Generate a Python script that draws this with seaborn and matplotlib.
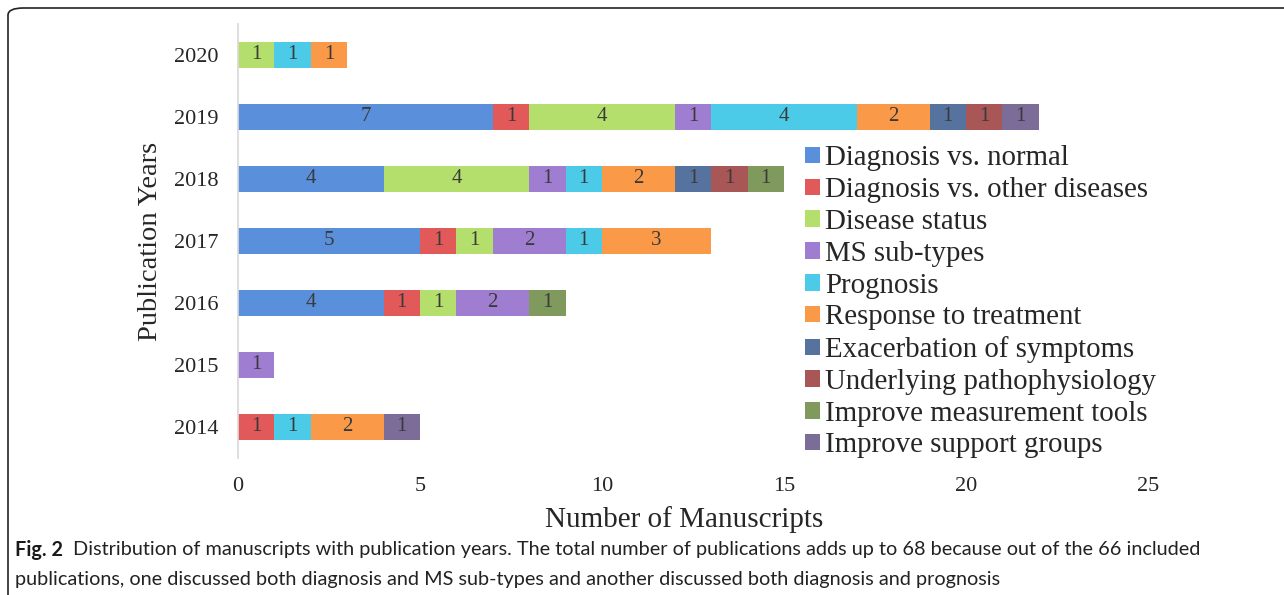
import matplotlib
matplotlib.use('Agg')
import matplotlib.pyplot as plt
from matplotlib.patches import Patch, FancyBboxPatch
import seaborn as sns
import pandas as pd
import numpy as np

# Dados
years = ['2020', '2019', '2018', '2017', '2016', '2015', '2014']
categories = ['Diagnosis vs. normal', 'Diagnosis vs. other diseases', 'Disease status',
              'MS sub-types', 'Prognosis', 'Response to treatment',
              'Exacerbation of symptoms', 'Underlying pathophysiology',
              'Improve measurement tools', 'Improve support groups']
diag_normal = [0, 7, 4, 5, 4, 0, 0]
diag_other = [0, 1, 0, 1, 1, 0, 1]
disease_status = [1, 4, 4, 1, 1, 0, 0]
ms_subtypes = [0, 1, 1, 2, 2, 1, 0]
prognosis = [1, 4, 1, 1, 0, 0, 1]
response = [1, 2, 2, 3, 0, 0, 2]
exacerbation = [0, 1, 1, 0, 0, 0, 0]
pathophys = [0, 1, 1, 0, 0, 0, 0]
measurement = [0, 0, 1, 0, 1, 0, 0]
support = [0, 1, 0, 0, 0, 0, 1]
colors = ['#5a8fdc', '#e25959', '#b4df6c', '#9f7dd0', '#4ccbe8', '#fa9a48',
          '#56739f', '#a85656', '#7f9a5c', '#7b6c98']

series = [diag_normal, diag_other, disease_status, ms_subtypes, prognosis, response,
          exacerbation, pathophys, measurement, support]
df = pd.DataFrame(dict(zip(categories, series)), index=years)
cum = df.cumsum(axis=1)

sns.set_theme(style='white')
plt.rcParams['font.family'] = ['Liberation Serif', 'DejaVu Serif']

fig = plt.figure(figsize=(12.84, 5.95), dpi=100)
ax = fig.add_axes([0.1854, 0.2303, 0.7086, 0.7294])

# barras empilhadas: desenha os acumulados do ultimo para o primeiro
for cat, col in reversed(list(zip(categories, colors))):
    d = pd.DataFrame({'Ano': years, 'Total': cum[cat].values})
    sns.barplot(data=d, y='Ano', x='Total', order=years, color=col,
                width=0.42, saturation=1, linewidth=0, ax=ax)

# rotulos dos segmentos
for i, yr in enumerate(years):
    for cat in categories:
        v = df.loc[yr, cat]
        if v > 0:
            ax.text(cum.loc[yr, cat] - v / 2, i, str(v), ha='center', va='center',
                    fontsize=15, color='#3a3a3a')

ax.set_xlim(0, 25)
ax.set_ylim(6.5, -0.5)
ax.set_xticks(range(0, 26, 5))
ax.tick_params(axis='x', length=0, pad=14, labelsize=16)
ax.tick_params(axis='y', length=0, pad=14, labelsize=16)
for s in ['top', 'right', 'bottom']:
    ax.spines[s].set_visible(False)
ax.spines['left'].set_color('#d9d9d9')
ax.set_xlabel('Number of Manuscripts', fontsize=21)
ax.xaxis.set_label_coords(0.49, -0.11)
ax.set_ylabel('Publication Years', fontsize=20.5, labelpad=8)

handles = [Patch(facecolor=c, edgecolor='none') for c in colors]
fig.legend(handles, categories, loc='upper left', bbox_to_anchor=(0.618, 0.775),
           frameon=False, fontsize=20.8, handlelength=0.5, handleheight=0.5,
           handletextpad=0.2, labelspacing=0.20, borderaxespad=0)

# moldura e legenda da figura
frame = FancyBboxPatch((8 / 1284, -0.2), 1.2, 1.2 - 8 / 595,
                       boxstyle='round,pad=0,rounding_size=0.012',
                       transform=fig.transFigure, fill=False, edgecolor='#222222',
                       linewidth=1.2, clip_on=False)
fig.patches.append(frame)

cap_font = ['Lato', 'DejaVu Sans']
fig.text(15 / 1284, 1 - 550 / 595, 'Fig. 2', fontsize=14.3, fontweight='bold',
         family=cap_font, va='center', ha='left', color='#1a1a1a')
fig.text(73 / 1284, 1 - 550 / 595,
         'Distribution of manuscripts with publication years. The total number of publications '
         'adds up to 68 because out of the 66 included',
         fontsize=14.3, family=cap_font, va='center', ha='left', color='#222222')
fig.text(15 / 1284, 1 - 579 / 595,
         'publications, one discussed both diagnosis and MS sub-types and another discussed '
         'both diagnosis and prognosis',
         fontsize=14.3, family=cap_font, va='center', ha='left', color='#222222')

fig.savefig('out.png', dpi=100)
